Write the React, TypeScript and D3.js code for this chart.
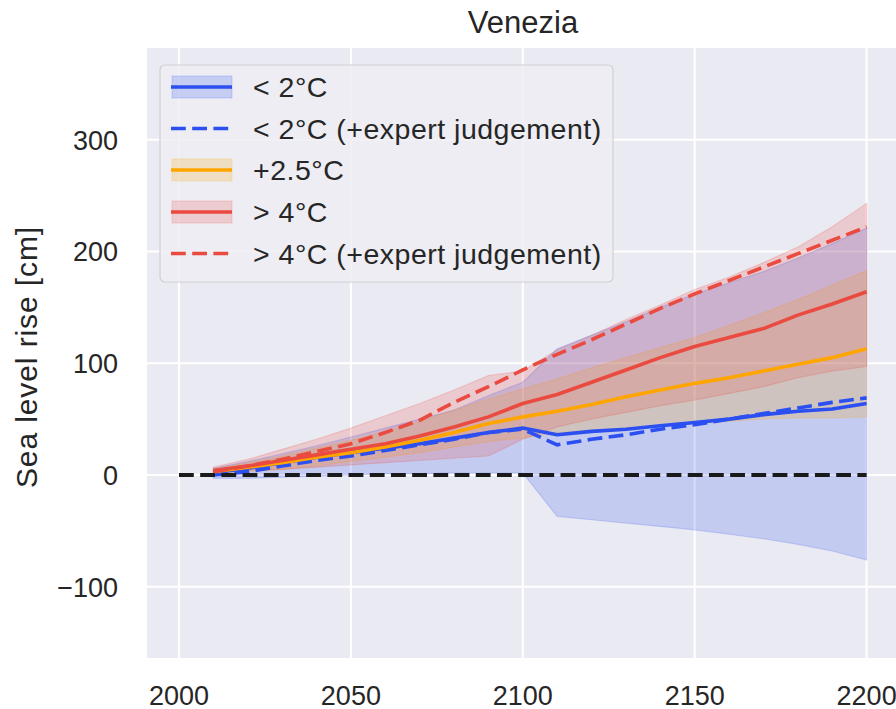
import React from 'react';
import * as d3 from 'd3';

const years = [2010, 2020, 2030, 2040, 2050, 2060, 2070, 2080, 2090, 2100, 2110, 2120, 2130, 2140, 2150, 2160, 2170, 2180, 2190, 2200];

const lowMed = [2, 6, 11, 16, 20, 24, 28, 33, 38, 42, 36, 39, 41, 44, 47, 50, 54, 57, 59, 64];
const lowLo = [-3, -3, -2, -1, 0, 1, 1, 2, 2, 2, -37, -40, -43, -46, -49, -53, -57, -62, -68, -76];
const lowHi = [6, 12, 19, 26, 34, 42, 50, 58, 71, 83, 113, 125, 137, 150, 162, 172, 182, 194, 207, 221];
const lowExp = [0, 3, 8, 13, 17, 22, 27, 32, 38, 41, 27, 32, 36, 41, 45, 50, 55, 60, 65, 69];

const midMed = [3, 7, 11, 16, 20, 25, 31, 38, 46, 52, 57, 63, 70, 76, 82, 87, 93, 99, 105, 113];
const midLo = [1, 3, 5, 8, 12, 16, 20, 25, 30, 33, 38, 40, 42, 44, 46, 48, 50, 51, 51, 52];
const midHi = [5, 11, 17, 24, 31, 39, 48, 58, 68, 77, 86, 96, 105, 114, 123, 134, 145, 157, 170, 183];

const highMed = [4, 8, 13, 18, 23, 28, 35, 43, 52, 64, 72, 83, 94, 105, 115, 123, 131, 143, 153, 164];
const highLo = [2, 4, 5, 7, 9, 11, 13, 15, 17, 32, 43, 50, 56, 62, 67, 73, 79, 87, 93, 97];
const highHi = [7, 14, 23, 32, 42, 53, 64, 76, 89, 93, 112, 125, 139, 152, 166, 177, 190, 204, 222, 243];
const highExp = [3, 8, 14, 21, 28, 38, 49, 65, 79, 94, 108, 121, 135, 149, 162, 174, 186, 198, 210, 222];

const zeroYears = [2000, 2200];
const zeroVals = [0, 0];

const xTicks = [2000, 2050, 2100, 2150, 2200];
const yTicks = [-100, 0, 100, 200, 300];

const legendLabels = ['< 2°C', '< 2°C (+expert judgement)', '+2.5°C', '> 4°C', '> 4°C (+expert judgement)'];

const BLUE = '#2b4ff0';
const ORANGE = '#ffa500';
const RED = '#ea4a3f';
const TEXT = '#262626';
const FONT = '"Liberation Sans", Arial, sans-serif';

const W = 896, H = 709;
const left = 147, right = 901, top = 48, bottom = 658;

export default function App() {
  const x = d3.scaleLinear().domain([1990.7, 2210]).range([left, right]);
  const y = d3.scaleLinear().domain([-163.7, 382]).range([bottom, top]);

  const line = (vals: number[], xs: number[] = years) =>
    d3.line<number>().x((_, i) => x(xs[i])).y((d) => y(d))(vals) || '';
  const area = (lo: number[], hi: number[]) =>
    d3.area<number>().x((_, i) => x(years[i])).y0((_, i) => y(lo[i])).y1((_, i) => y(hi[i]))(years.map((_, i) => i)) || '';

  const legendRows = [
    { color: BLUE, patch: true, dash: false },
    { color: BLUE, patch: false, dash: true },
    { color: ORANGE, patch: true, dash: false },
    { color: RED, patch: true, dash: false },
    { color: RED, patch: false, dash: true },
  ];
  const rowY = [87, 128.5, 170, 212, 253.5];

  return (
    <svg width={W} height={H} style={{ position: 'absolute', left: 0, top: 0, background: '#fff' }} fontFamily={FONT}>
      <defs>
        <clipPath id="plotClip">
          <rect x={left} y={top} width={right - left} height={bottom - top} />
        </clipPath>
      </defs>
      <rect x={left} y={top} width={right - left} height={bottom - top} fill="#eaeaf2" />
      {xTicks.map((t) => (
        <line key={'gx' + t} x1={x(t)} x2={x(t)} y1={top} y2={bottom} stroke="#fff" strokeWidth={2} />
      ))}
      {yTicks.map((t) => (
        <line key={'gy' + t} x1={left} x2={right} y1={y(t)} y2={y(t)} stroke="#fff" strokeWidth={2} />
      ))}
      <g clipPath="url(#plotClip)">
        <path d={area(lowLo, lowHi)} fill={BLUE} fillOpacity={0.2} stroke={BLUE} strokeOpacity={0.2} strokeWidth={1.2} />
        <path d={area(midLo, midHi)} fill={ORANGE} fillOpacity={0.2} stroke={ORANGE} strokeOpacity={0.2} strokeWidth={1.2} />
        <path d={area(highLo, highHi)} fill={RED} fillOpacity={0.2} stroke={RED} strokeOpacity={0.2} strokeWidth={1.2} />
        <path d={line(lowMed)} fill="none" stroke={BLUE} strokeWidth={3.6} strokeLinejoin="round" />
        <path d={line(lowExp)} fill="none" stroke={BLUE} strokeWidth={3.6} strokeDasharray="14.8,6.4" />
        <path d={line(midMed)} fill="none" stroke={ORANGE} strokeWidth={3.6} strokeLinejoin="round" />
        <path d={line(highMed)} fill="none" stroke={RED} strokeWidth={3.6} strokeLinejoin="round" />
        <path d={line(highExp)} fill="none" stroke={RED} strokeWidth={3.6} strokeDasharray="14.8,6.4" />
        <path d={line(zeroVals, zeroYears)} fill="none" stroke="#1a1a1a" strokeWidth={4} strokeDasharray="14.8,6.4" />
      </g>
      {yTicks.map((t) => (
        <text key={'ty' + t} x={118} y={y(t) + 10} textAnchor="end" fontSize={27} fill={TEXT}>
          {t < 0 ? '\u2212' + Math.abs(t) : String(t)}
        </text>
      ))}
      {xTicks.map((t) => (
        <text key={'tx' + t} x={x(t)} y={705} textAnchor="middle" fontSize={27} fill={TEXT}>
          {t}
        </text>
      ))}
      <text x={(left + right) / 2 - 1} y={33} textAnchor="middle" fontSize={31} fill={TEXT}>Venezia</text>
      <text transform={`translate(37, ${357}) rotate(-90)`} textAnchor="middle" fontSize={30} letterSpacing={0.9} fill={TEXT}>
        Sea level rise [cm]
      </text>
      <g>
        <rect x={160} y={65} width={453} height={217} rx={5} fill="#ededf3" fillOpacity={0.85} stroke="#d0d0d4" strokeWidth={1.2} />
        {legendRows.map((r, i) => (
          <g key={'lg' + i}>
            {r.patch && (
              <rect x={172} y={rowY[i] - 11} width={60} height={22} fill={r.color} fillOpacity={0.2} stroke={r.color} strokeOpacity={0.2} />
            )}
            <line x1={171} x2={232} y1={rowY[i]} y2={rowY[i]} stroke={r.color} strokeWidth={3.6}
              strokeDasharray={r.dash ? '14.8,6.4' : undefined} />
            <text x={253} y={rowY[i] + 10} fontSize={28.5} letterSpacing={0.5} fill={TEXT}>{legendLabels[i]}</text>
          </g>
        ))}
      </g>
    </svg>
  );
}
